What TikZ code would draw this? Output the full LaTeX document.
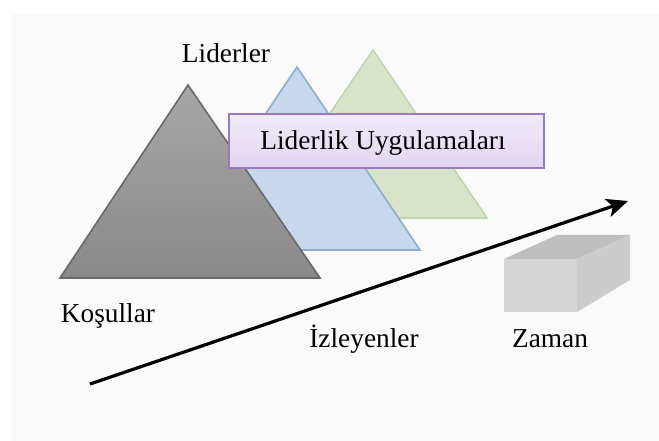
\documentclass[tikz,border=0pt]{standalone}
\usepackage{fontspec}
\setmainfont{Liberation Serif}
\usetikzlibrary{arrows.meta,positioning}
\definecolor{bggray}{RGB}{250,250,250}
\definecolor{trigray}{RGB}{152,152,152}
\definecolor{trigrayline}{RGB}{105,105,105}
\definecolor{triblue}{RGB}{199,216,236}
\definecolor{triblueline}{RGB}{140,172,208}
\definecolor{trigreen}{RGB}{216,228,202}
\definecolor{trigreenline}{RGB}{194,212,172}
\definecolor{boxpurple}{RGB}{226,214,242}
\definecolor{boxpurpleline}{RGB}{152,122,184}
\definecolor{blockfront}{RGB}{214,214,214}
\definecolor{blocktop}{RGB}{190,190,190}
\definecolor{blockside}{RGB}{204,204,204}

\tikzset{
    lbl/.style={font=\fontsize{20.5}{24}\selectfont, anchor=base, inner sep=0pt},
    practicebox/.style={draw=boxpurpleline, line width=1.8pt, top color=boxpurple!50!white,
        bottom color=boxpurple, minimum width=236pt, minimum height=40.5pt, inner sep=0pt},
}

\begin{document}
\begin{tikzpicture}[x=0.75pt, y=-0.75pt]
    % background
    \useasboundingbox (0,0) rectangle (659,441);
    \fill[white] (0,0) rectangle (659,441);
    \fill[bggray] (12,14) rectangle (659,441);

    % triangles (back to front)
    \draw[fill=trigreen, draw=trigreenline, line width=1.2pt] (259,218) -- (373,50) -- (487,218) -- cycle;
    \draw[fill=triblue, draw=triblueline, line width=1.2pt] (174,250) -- (297,67) -- (420,250) -- cycle;
    \draw[top color=trigray!85!white, bottom color=trigray!90!black, draw=trigrayline, line width=1.2pt]
        (60,278) -- (188,85) -- (320,278) -- cycle;

    % practices box
    \node[practicebox] (practice) at (386.5,141) {};
    \node[lbl] (practicetxt) at (383,150) {Liderlik Uygulamaları};

    % time arrow
    \coordinate (tstart) at (90,384);
    \coordinate (tend) at (628,201);
    \draw[line width=2.4pt, -{Stealth[length=16pt, width=14pt, inset=4pt]}] (tstart) -- (tend);

    % block
    \fill[blocktop] (504,259) -- (577,259) -- (630,235) -- (557,235) -- cycle;
    \fill[blockside] (577,259) -- (630,235) -- (630,280) -- (577,312) -- cycle;
    \fill[blockfront] (504,259) rectangle (577,312);

    % labels
    \node[lbl] (leaders) at (226,63) {Liderler};
    \node[lbl] (conditions) at (108,322) {Koşullar};
    \node[lbl] (followers) at (364,347) {İzleyenler};
    \node[lbl] (time) at (550,347) {Zaman};
\end{tikzpicture}
\end{document}
